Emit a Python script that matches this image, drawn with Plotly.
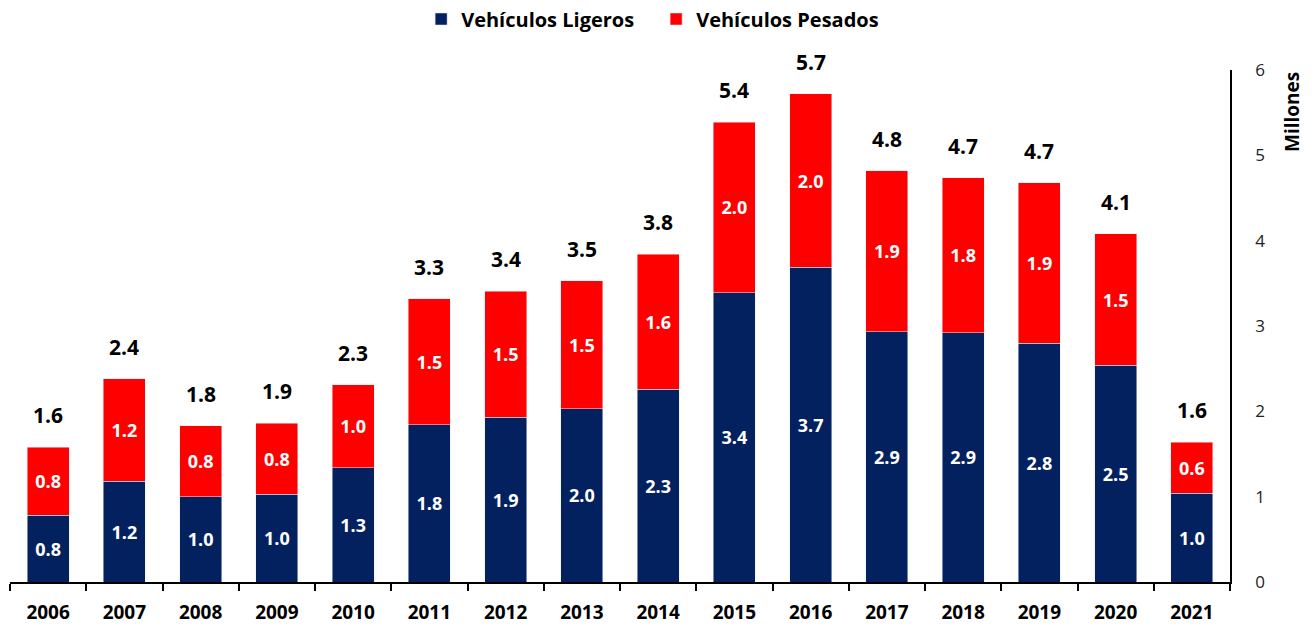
import plotly.graph_objects as go

years = ["2006", "2007", "2008", "2009", "2010", "2011", "2012", "2013",
         "2014", "2015", "2016", "2017", "2018", "2019", "2020", "2021"]
ligeros = [0.78, 1.18, 1.00, 1.03, 1.34, 1.84, 1.93, 2.03,
           2.26, 3.39, 3.69, 2.93, 2.92, 2.80, 2.54, 1.04]
pesados = [0.80, 1.20, 0.83, 0.83, 0.97, 1.48, 1.48, 1.50,
           1.58, 2.00, 2.03, 1.89, 1.82, 1.88, 1.54, 0.60]
totales = [round(a + b, 2) for a, b in zip(ligeros, pesados)]

FONT = "Open Sans"
NAVY = "#03215F"
RED = "#FF0000"

fig = go.Figure()
fig.add_trace(go.Bar(
    x=years, y=ligeros, name="Vehículos Ligeros", marker_color=NAVY,
    texttemplate="<b>%{y:.1f}</b>", textposition="inside", insidetextanchor="middle",
    textfont=dict(color="white", size=18, family=FONT), textangle=0,
))
fig.add_trace(go.Bar(
    x=years, y=pesados, name="Vehículos Pesados", marker_color=RED,
    texttemplate="<b>%{y:.1f}</b>", textposition="inside", insidetextanchor="middle",
    textfont=dict(color="white", size=18, family=FONT), textangle=0,
))

# total labels above each stack (category index from list order)
for i, t in enumerate(totales):
    fig.add_annotation(x=i, y=t, xref="x", yref="y", text=f"<b>{t:.1f}</b>",
                       showarrow=False, yanchor="middle", yshift=32,
                       font=dict(size=21, color="black", family=FONT))

# axis title placed at the top of the right axis
fig.add_annotation(x=1.0508, y=1.0, xref="paper", yref="paper", text="<b>Millones</b>",
                   textangle=-90, showarrow=False, xanchor="center", yanchor="top",
                   font=dict(size=19, color="black", family=FONT))

fig.update_layout(
    barmode="stack", bargap=0.45,
    width=1312, height=626,
    margin=dict(l=2, r=90, t=62, b=52, autoexpand=False),
    plot_bgcolor="white", paper_bgcolor="white",
    font=dict(family=FONT, color="black"),
    showlegend=True,
    legend=dict(orientation="h", x=0.337, xanchor="left", y=1.0996, yanchor="middle",
                font=dict(size=20, family=FONT, weight="bold"), traceorder="normal",
                itemwidth=30, entrywidth=190),
    xaxis=dict(type="category", categoryorder="array", categoryarray=years,
               showline=True, linecolor="black", linewidth=1.5,
               ticks="outside", tickson="boundaries", ticklen=7, tickcolor="black",
               tickwidth=1.5, automargin=False, ticklabelstandoff=12,
               tickfont=dict(size=19, family=FONT, weight="bold"), showgrid=False),
    yaxis=dict(side="right", range=[0, 6], dtick=1, showline=True, linecolor="black",
               linewidth=1.5, showgrid=False, ticks="", ticklabelstandoff=20,
               automargin=False,
               tickfont=dict(size=17, family=FONT, color="#222"),
               zeroline=False),
)

fig.write_html("out.html")
